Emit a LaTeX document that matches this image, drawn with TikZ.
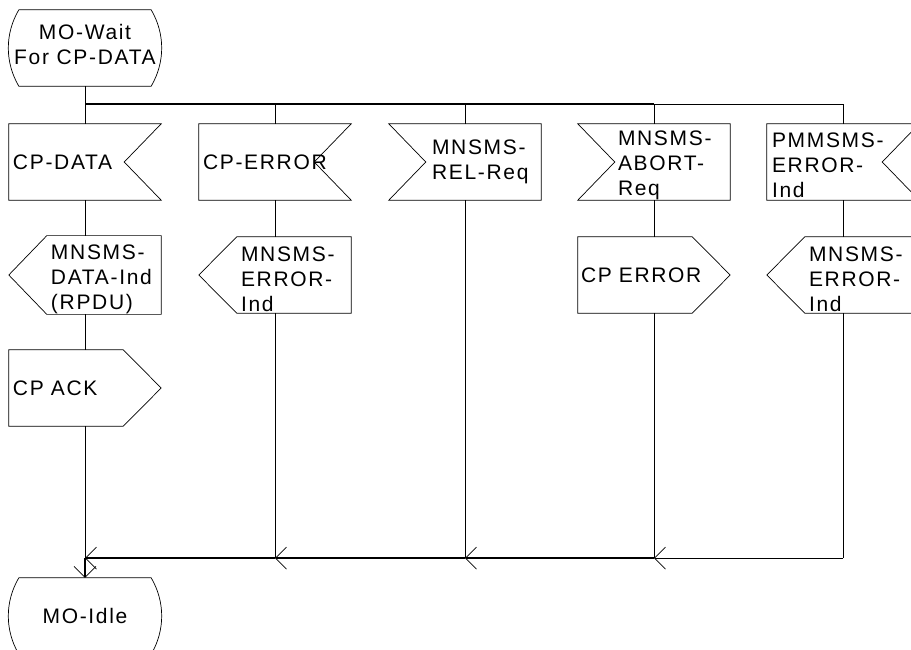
\documentclass[tikz,border=0pt]{standalone}
\usepackage{fontspec}
\setmainfont{Liberation Sans}[LetterSpace=8]
\usetikzlibrary{arrows.meta}

\newcommand\sdlfont{\fontsize{21}{25}\selectfont}

\tikzset{
	sdl line/.style={line width=0.7pt},
	bus/.style={line width=1.4pt},
	pad/.style={execute at begin node={\leftskip=#1pt}},
	sym/.style={rectangle, inner sep=0pt, minimum width=152, minimum height=76,
		text width=152, align=left, font=\sdlfont},
	state/.style={rectangle, inner sep=0pt, minimum width=152, minimum height=76,
		align=center, font=\sdlfont,
		append after command={\pgfextra{\draw[sdl line]
			([xshift=10pt]\tikzlastnode.north west) -- ([xshift=-10pt]\tikzlastnode.north east)
			.. controls +(14pt,-24pt) and +(14pt,24pt) .. ([xshift=-10pt]\tikzlastnode.south east)
			-- ([xshift=10pt]\tikzlastnode.south west)
			.. controls +(-14pt,24pt) and +(-14pt,-24pt) .. ([xshift=10pt]\tikzlastnode.north west);}}},
	inR/.style={sym, pad=4,
		append after command={\pgfextra{\draw[sdl line]
			(\tikzlastnode.north west) -- (\tikzlastnode.north east)
			-- ([xshift=-37pt]\tikzlastnode.east) -- (\tikzlastnode.south east)
			-- (\tikzlastnode.south west) -- cycle;}}},
	inL/.style={sym, pad=42,
		append after command={\pgfextra{\draw[sdl line]
			(\tikzlastnode.north west) -- (\tikzlastnode.north east)
			-- (\tikzlastnode.south east) -- (\tikzlastnode.south west)
			-- ([xshift=37pt]\tikzlastnode.west) -- cycle;}}},
	outL/.style={sym, pad=42,
		append after command={\pgfextra{\draw[sdl line]
			([xshift=38pt]\tikzlastnode.north west) -- (\tikzlastnode.north east)
			-- (\tikzlastnode.south east) -- ([xshift=38pt]\tikzlastnode.south west)
			-- (\tikzlastnode.west) -- cycle;}}},
	outR/.style={sym, pad=4,
		append after command={\pgfextra{\draw[sdl line]
			(\tikzlastnode.north west) -- ([xshift=-38pt]\tikzlastnode.north east)
			-- (\tikzlastnode.east) -- ([xshift=-38pt]\tikzlastnode.south east)
			-- (\tikzlastnode.south west) -- cycle;}}}
}

\begin{document}
\begin{tikzpicture}[x=1pt, y=1pt,
	>={Straight Barb[length=11pt, width=22pt, line width=0.7pt]}]
	\useasboundingbox (0,0) rectangle (911,-649);
	\clip (0,0) rectangle (911,-649);

	\foreach \i/\x in {1/85, 2/275, 3/465, 4/654, 5/843} {
		\coordinate (t\i) at (\x,-104);
		\coordinate (j\i) at (\x,-558);
	}

	% states
	\node[state, text depth=7pt] (wait) at (85,-48) {MO-Wait\\For CP-DATA};
	\node[state] (idle) at (85,-616) {MO-Idle};

	% inputs
	\node[inR] (cpdata) at (85,-162) {CP-DATA};
	\node[inR] (cperror) at (275,-162) {CP-ERROR};
	\node[inL, pad=43] (relreq) at (465,-162) {MNSMS-\\REL-Req};
	\node[inL, pad=40, text height=21pt] (abortreq) at (654,-162) {MNSMS-\\ABORT-\\Req};
	\node[inR, pad=5, text height=21pt] (pmmerr) at (843,-162) {PMMSMS-\\ERROR-\\Ind};

	% outputs
	\node[outL, text height=24pt] (dataind) at (85,-275) {MNSMS-\\DATA-Ind\\(RPDU)};
	\node[outL, text height=24pt] (errind) at (275,-275) {MNSMS-\\ERROR-\\Ind};
	\node[outR, pad=3] (cperr) at (654,-275) {CP ERROR};
	\node[outL, text height=24pt] (errind2) at (843,-275) {MNSMS-\\ERROR-\\Ind};
	\node[outR] (cpack) at (85,-388) {CP ACK};

	% top bus
	\draw[sdl line] (wait) -- (t1);
	\draw[bus] (t1) -- (t4);
	\draw[sdl line] (t4) -- (t5);

	% columns
	\draw[sdl line] (t1) -- (cpdata) (cpdata) -- (dataind) (dataind) -- (cpack) (cpack) -- (j1);
	\draw[sdl line] (t2) -- (cperror) (cperror) -- (errind) (errind) -- (j2);
	\draw[sdl line] (t3) -- (relreq) (relreq) -- (j3);
	\draw[sdl line] (t4) -- (abortreq) (abortreq) -- (cperr) (cperr) -- (j4);
	\draw[sdl line] (t5) -- (pmmerr) (pmmerr) -- (errind2) (errind2) -- (j5);

	% bottom bus
	\draw[sdl line, ->] (j5) -- (j4);
	\draw[bus, ->] (j4) -- (j3);
	\draw[bus, ->] (j3) -- (j2);
	\draw[bus, ->] (j2) -- (j1);
	\draw[bus, ->] (j1) -- (idle);
\end{tikzpicture}
\end{document}
